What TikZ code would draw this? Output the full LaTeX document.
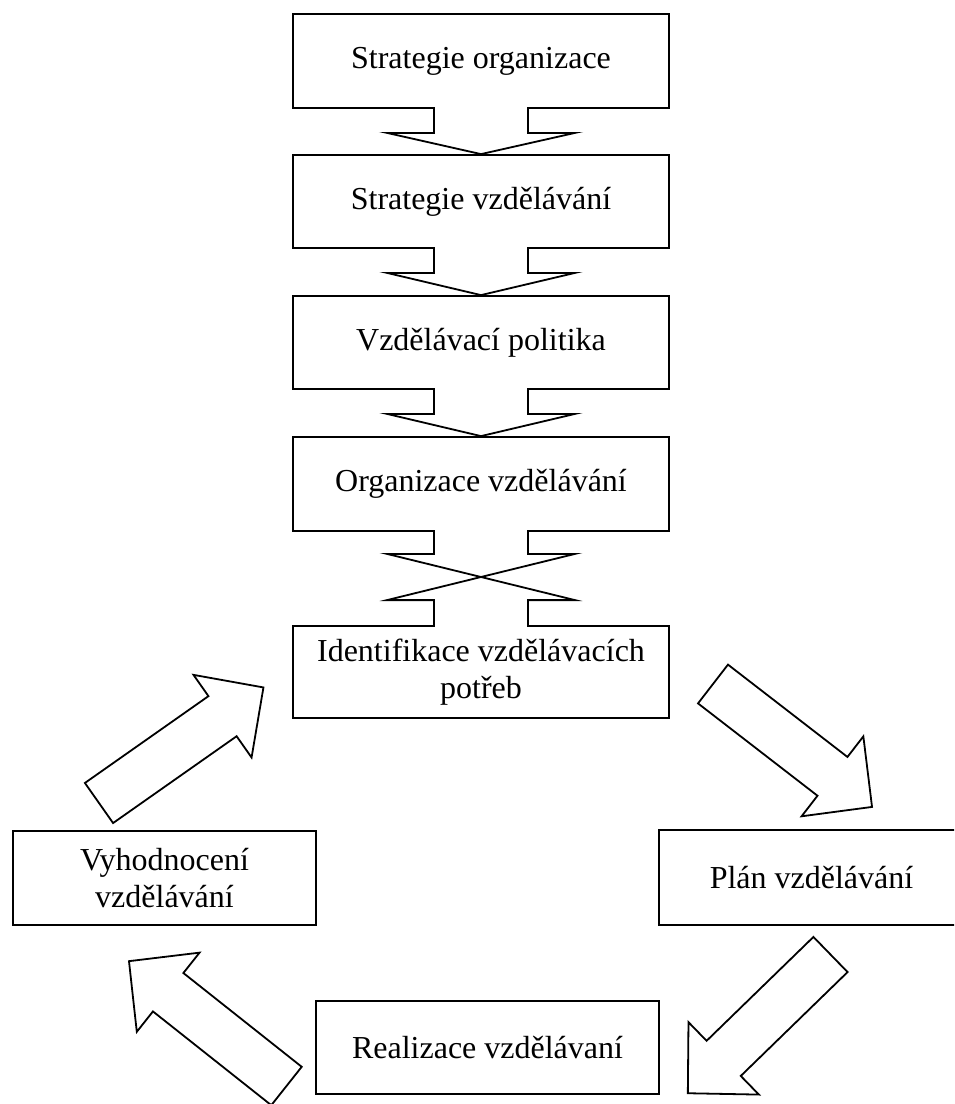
\documentclass[tikz,border=0pt]{standalone}
\usepackage{fontspec}
\setmainfont{Liberation Serif}
\usetikzlibrary{calc}

% outline of a straight block arrow, drawn from its tail centre along +x
\newcommand{\blockarrow}[3]{%
  \draw[blk, shift={(#1)}, rotate=#2]
    (0,-24.5) -- (#3-50,-24.5) -- (#3-50,-50.5) -- (#3,0)
    -- (#3-50,50.5) -- (#3-50,24.5) -- (0,24.5) -- cycle;}

% notched arrow joining the bottom of one box to the top of the next
\newcommand{\notchlink}[2]{%
  \fill[white] ($(#1.south)+(-46,-2)$) rectangle ($(#1.south)+(46,2)$);
  \draw[ln] ($(#1.south)+(-47,0)$) -- ++(0,24) -- ++(-47,0) -- (#2.north)
    -- ($(#1.south)+(94,24)$) -- ++(-47,0) -- ++(0,-24);}

\begin{document}
\begin{tikzpicture}[x=1pt,y=-1pt,
  ln/.style={line width=1.8pt, line join=miter},
  blk/.style={ln, fill=white},
  box/.style={ln, draw, fill=white, align=center, inner sep=0pt,
    font=\fontsize{32}{37}\selectfont}]
\clip (0,0) rectangle (954,1104);
\fill[white] (0,0) rectangle (954,1104);

% vertical chain of boxes
\node[box, minimum width=376pt, minimum height=94pt] (b1) at (481,61) {Strategie organizace};
\node[box, minimum width=376pt, minimum height=93pt] (b2) at (481,201.5) {Strategie vzdělávání};
\node[box, minimum width=376pt, minimum height=93pt] (b3) at (481,342.5) {Vzdělávací politika};
\node[box, minimum width=376pt, minimum height=94pt] (b4) at (481,484) {Organizace vzdělávání};
\node[box, minimum width=376pt, minimum height=92pt] (b5) at (481,672) {Identifikace vzdělávacích\\potřeb};

% cycle boxes
\node[box, minimum width=303pt, minimum height=94pt] (b6) at (164.5,878) {Vyhodnocení\\vzdělávání};
\node[box, minimum width=305pt, minimum height=95pt] (b7) at (811.5,877.5) {Plán vzdělávání};
\node[box, minimum width=343pt, minimum height=93pt] (b8) at (487.5,1047.5) {Realizace vzdělávaní};

% notched links between the stacked boxes
\notchlink{b1}{b2}
\notchlink{b2}{b3}
\notchlink{b3}{b4}

% crossed link between b4 and b5
\fill[white] ($(b4.south)+(-46,-2)$) rectangle ($(b4.south)+(46,2)$);
\fill[white] ($(b5.north)+(-46,-2)$) rectangle ($(b5.north)+(46,2)$);
\draw[ln] ($(b4.south)+(-47,0)$) -- ++(0,22) -- ++(-47,0)
  -- ($(b5.north)+(94,-25)$) -- ++(-47,0) -- ++(0,25);
\draw[ln] ($(b4.south)+(47,0)$) -- ++(0,22) -- ++(47,0)
  -- ($(b5.north)+(-94,-25)$) -- ++(47,0) -- ++(0,25);

% block arrows of the cycle
\coordinate (t1) at (99,803);
\coordinate (t2) at (713,684);
\coordinate (t3) at (830.5,954.5);
\coordinate (t4) at (286.5,1086);
\blockarrow{t1}{35.1}{201}
\blockarrow{t2}{-37.7}{201}
\blockarrow{t3}{-135.8}{199}
\blockarrow{t4}{141.6}{201}
\end{tikzpicture}
\end{document}
